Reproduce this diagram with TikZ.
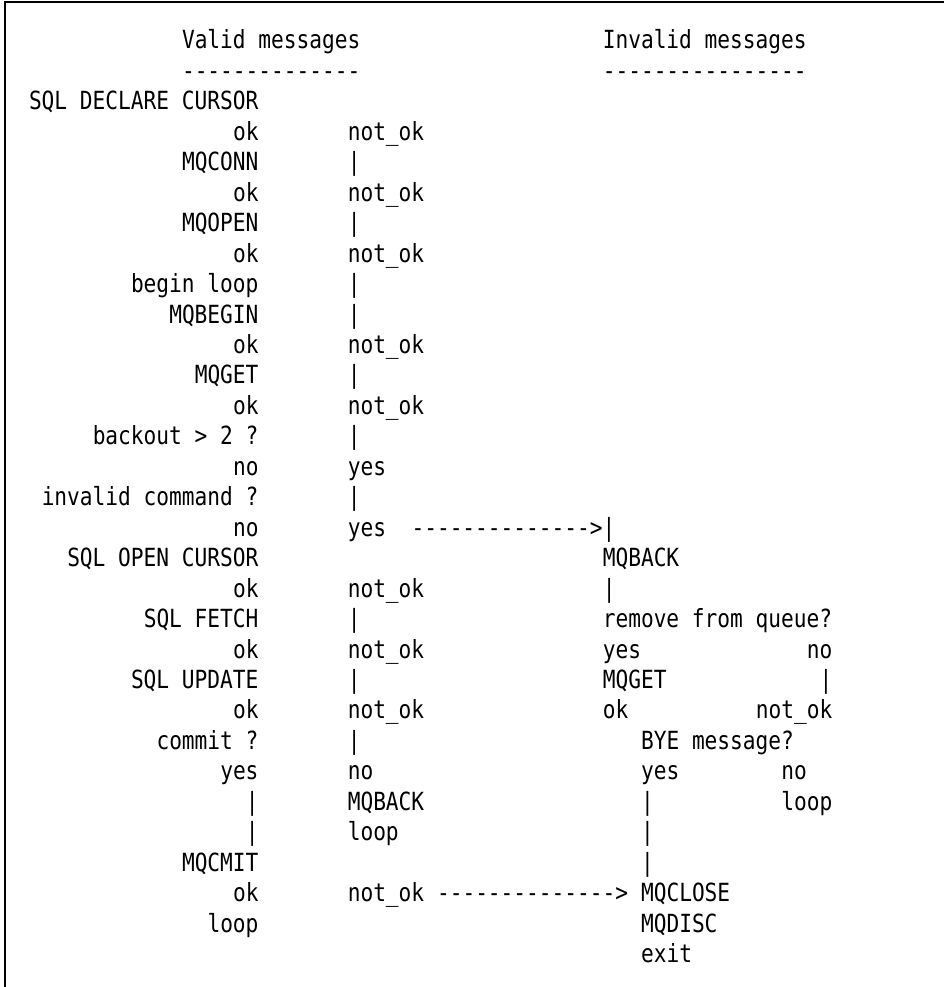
\documentclass[tikz,border=0pt]{standalone}
\usepackage{fontspec}
\setmonofont{DejaVu Sans Mono}[FakeStretch=0.847]
\tikzset{
  msg/.style={anchor=base west,inner sep=0pt,outer sep=0pt,
    font=\ttfamily\fontsize{18.75pt}{22pt}\selectfont},
  frame/.style={line width=1.5pt},
}
\begin{document}
\begin{tikzpicture}[x=9.5625pt,y=-22.8375pt]
        \useasboundingbox (-21.75pt,36.75pt) rectangle (686.25pt,-703.5pt);
        \draw[frame] (-18pt,-703.5pt) -- (-18pt,35.25pt) -- (686.25pt,35.25pt);

        \node (vhead) at (12,0) [msg] {Valid messages};
        \node (ihead) at (45,0) [msg] {Invalid messages};
        \node (vrule) at (12,1) [msg] {--------------};
        \node (irule) at (45,1) [msg] {----------------};

        % valid messages
        \node (declare) at (0,2) [msg] {SQL DECLARE CURSOR};
        \foreach \r in {3,5,7,10,12,18,20,22} {
          \node (ok\r) at (16,\r) [msg] {ok};
          \node (nok\r) at (25,\r) [msg] {not\_ok};
        }
        \foreach \r in {4,6,8,9,11,13,15,19,21,23} {
          \node (bar\r) at (25,\r) [msg] {|};
        }
        \node (conn) at (12,4) [msg] {MQCONN};
        \node (open) at (12,6) [msg] {MQOPEN};
        \node (loopbeg) at (8,8) [msg] {begin loop};
        \node (begin) at (11,9) [msg] {MQBEGIN};
        \node (get) at (13,11) [msg] {MQGET};
        \node (backout) at (5,13) [msg] {backout > 2 ?};
        \node (no14) at (16,14) [msg] {no};
        \node (yes14) at (25,14) [msg] {yes};
        \node (invalid) at (1,15) [msg] {invalid command ?};
        \node (no16) at (16,16) [msg] {no};
        \node (yes16) at (25,16) [msg] {yes};
        \node (toback) at (30,16) [msg] {-------------->|};
        \node (opencur) at (3,17) [msg] {SQL OPEN CURSOR};
        \node (fetch) at (9,19) [msg] {SQL FETCH};
        \node (update) at (8,21) [msg] {SQL UPDATE};
        \node (commit) at (10,23) [msg] {commit ?};
        \node (yes24) at (15,24) [msg] {yes};
        \node (no24) at (25,24) [msg] {no};
        \node (bar25) at (17,25) [msg] {|};
        \node (back25) at (25,25) [msg] {MQBACK};
        \node (bar26) at (17,26) [msg] {|};
        \node (loop26) at (25,26) [msg] {loop};
        \node (cmit) at (12,27) [msg] {MQCMIT};
        \node (ok28) at (16,28) [msg] {ok};
        \node (nok28) at (25,28) [msg] {not\_ok};
        \node (toclose) at (32,28) [msg] {-------------->};
        \node (loop29) at (14,29) [msg] {loop};

        % invalid messages
        \node (back) at (45,17) [msg] {MQBACK};
        \node (ibar18) at (45,18) [msg] {|};
        \node (remove) at (45,19) [msg] {remove from queue?};
        \node (iyes20) at (45,20) [msg] {yes};
        \node (ino20) at (61,20) [msg] {no};
        \node (iget) at (45,21) [msg] {MQGET};
        \node (ibar21) at (62,21) [msg] {|};
        \node (iok22) at (45,22) [msg] {ok};
        \node (inok22) at (57,22) [msg] {not\_ok};
        \node (bye) at (48,23) [msg] {BYE message?};
        \node (iyes24) at (48,24) [msg] {yes};
        \node (ino24) at (59,24) [msg] {no};
        \node (ibar25) at (48,25) [msg] {|};
        \node (iloop25) at (59,25) [msg] {loop};
        \node (ibar26) at (48,26) [msg] {|};
        \node (ibar27) at (48,27) [msg] {|};
        \node (close) at (48,28) [msg] {MQCLOSE};
        \node (disc) at (48,29) [msg] {MQDISC};
        \node (exit) at (48,30) [msg] {exit};
      \end{tikzpicture}
\end{document}
